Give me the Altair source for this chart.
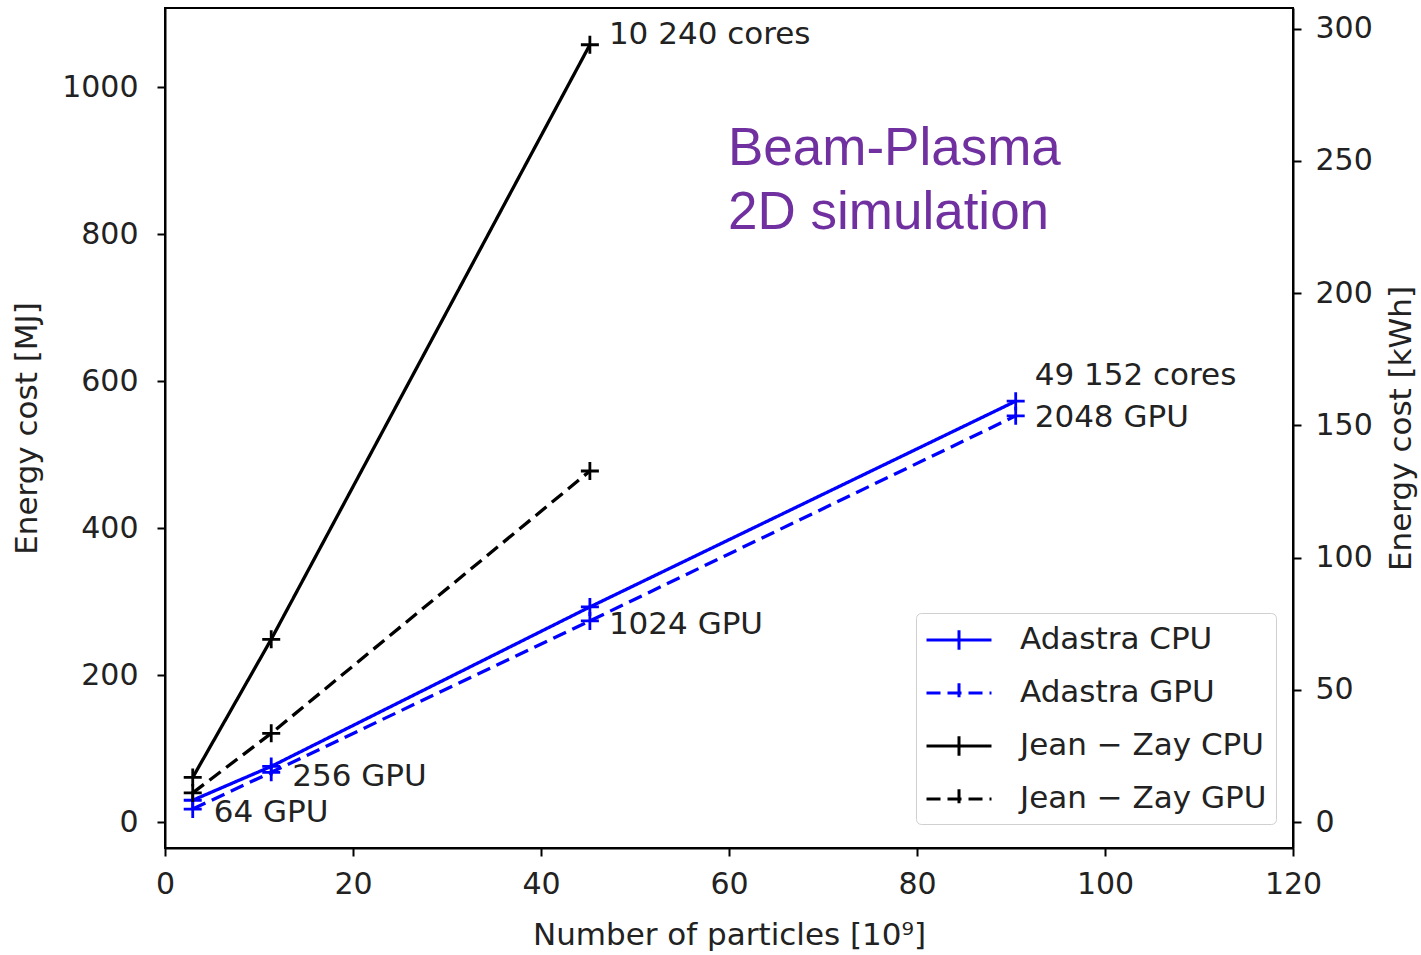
import altair as alt
import pandas as pd

# Number of particles (x 10^9) for each run size
particles = [2.95, 11.3, 45.2, 90.5]

# Energy cost in MJ for each machine / partition
adastra_cpu = [30, 76, 293, 573]
adastra_gpu = [18, 68, 274, 553]
jean_zay_cpu = [61, 249, 1058]
jean_zay_gpu = [40, 121, 478]

series_names = ["Adastra CPU", "Adastra GPU", "Jean − Zay CPU", "Jean − Zay GPU"]
series_values = [adastra_cpu, adastra_gpu, jean_zay_cpu, jean_zay_gpu]
series_colors = ["#0000ff", "#0000ff", "#000000", "#000000"]
series_dashes = [[1, 0], [14, 7], [1, 0], [14, 7]]

x_ticks = [0, 20, 40, 60, 80, 100, 120]
mj_ticks = [0, 200, 400, 600, 800, 1000]
kwh_ticks = [0, 50, 100, 150, 200, 250, 300]

# Resource annotations: text, series it belongs to, point index
annotation_text = ["10 240 cores", "49 152 cores", "2048 GPU", "1024 GPU", "256 GPU", "64 GPU"]
annotation_series = [2, 0, 1, 1, 1, 1]
annotation_index = [2, 3, 3, 2, 1, 0]

MJ_PER_KWH = 3.6
mj_domain = [-35, 1108]

rows = []
for name, vals in zip(series_names, series_values):
    for i, v in enumerate(vals):
        rows.append({"series": name, "particles": particles[i], "mj": v, "step": i})
df = pd.DataFrame(rows)

FONT = "DejaVu Sans"
TEXT_COLOR = "#222222"

x_enc = alt.X(
    "particles:Q",
    scale=alt.Scale(domain=[0, 120], nice=False, zero=False),
    axis=alt.Axis(
        values=x_ticks,
        title="Number of particles [10⁹]",
        format="d",
        labelPadding=13,
        titlePadding=21,
    ),
)
y_enc = alt.Y(
    "mj:Q",
    scale=alt.Scale(domain=mj_domain, nice=False, zero=False),
    axis=alt.Axis(
        values=mj_ticks,
        title="Energy cost [MJ]",
        format="d",
        labelPadding=19,
        titlePadding=18,
    ),
)

# Legend swatch: a long line segment with a "+" marker in its middle
legend = alt.Legend(
    title=None,
    orient="none",
    legendX=751,
    legendY=605,
    symbolType="M-2,0L2,0M0,-0.6L0,0.6",
    symbolSize=1056,
    symbolOffset=16,
    symbolStrokeWidth=3,
    symbolFillColor="transparent",
    labelFont=FONT,
    labelFontSize=31,
    labelColor=TEXT_COLOR,
    labelOffset=43,
    labelLimit=500,
    padding=9,
    rowPadding=19,
    fillColor="white",
    strokeColor="#d0d0d0",
    cornerRadius=5,
)

color_enc = alt.Color(
    "series:N",
    scale=alt.Scale(domain=series_names, range=series_colors),
    legend=legend,
    sort=series_names,
)
dash_enc = alt.StrokeDash(
    "series:N",
    scale=alt.Scale(domain=series_names, range=series_dashes),
    legend=legend,
    sort=series_names,
)

lines = alt.Chart(df).mark_line(strokeWidth=3.3).encode(
    x=x_enc, y=y_enc, color=color_enc, strokeDash=dash_enc, order="step:Q"
)

points = alt.Chart(df).mark_point(
    shape="M-1,0L1,0M0,-1L0,1", size=324, strokeWidth=2.8, filled=False, opacity=1
).encode(x=x_enc, y=y_enc, color=color_enc)

# Annotation offsets in pixels from the annotated point
ann_dx = [19, 19, 19, 19, 21, 21]
ann_dy = [-10, -25, 2, 4, 5, 4]

ann_layers = []
for k, txt in enumerate(annotation_text):
    s = annotation_series[k]
    i = annotation_index[k]
    row = pd.DataFrame(
        [{"particles": particles[i], "mj": series_values[s][i], "label": txt}]
    )
    ann_layers.append(
        alt.Chart(row)
        .mark_text(
            align="left",
            baseline="middle",
            dx=ann_dx[k],
            dy=ann_dy[k],
            font=FONT,
            fontSize=31,
            color=TEXT_COLOR,
        )
        .encode(x=x_enc, y=y_enc, text="label:N")
    )

main = alt.layer(lines, points, *ann_layers)

# Secondary axis in kWh, same positions as MJ / 3.6
kwh_layer = (
    alt.Chart(df)
    .transform_calculate(kwh=f"datum.mj / {MJ_PER_KWH}")
    .mark_point(opacity=0)
    .encode(
        x=x_enc,
        y=alt.Y(
            "kwh:Q",
            scale=alt.Scale(
                domain=[mj_domain[0] / MJ_PER_KWH, mj_domain[1] / MJ_PER_KWH],
                nice=False,
                zero=False,
            ),
            axis=alt.Axis(
                orient="right",
                values=kwh_ticks,
                title="Energy cost [kWh]",
                titleAngle=270,
                titleBaseline="top",
                format="d",
                labelPadding=14,
                titlePadding=14,
            ),
        ),
    )
)

chart = (
    alt.layer(main, kwh_layer)
    .resolve_scale(y="independent")
    .properties(
        width=1128,
        height=840,
        autosize=alt.AutoSizeParams(type="none"),
        padding={"left": 165, "top": 8, "right": 128, "bottom": 107},
        background="white",
        title=alt.TitleParams(
            text=["Beam-Plasma", "2D simulation"],
            anchor="start",
            frame="group",
            orient="top",
            offset=0,
            dx=563,
            dy=232,
            baseline="top",
            font="Liberation Sans",
            fontSize=53,
            fontWeight="normal",
            color="#7030A0",
            lineHeight=64,
        ),
    )
    .configure_view(stroke="black", strokeWidth=2)
    .configure_axis(
        labelFont=FONT,
        labelFontSize=30,
        labelColor=TEXT_COLOR,
        labelFlush=False,
        titleFont=FONT,
        titleFontSize=31,
        titleFontWeight="normal",
        titleColor=TEXT_COLOR,
        domainColor="black",
        domainWidth=2,
        tickColor="black",
        tickWidth=2,
        tickSize=8,
        grid=False,
    )
)

chart.save("out.html", embed_options={"renderer": "svg", "actions": False})
